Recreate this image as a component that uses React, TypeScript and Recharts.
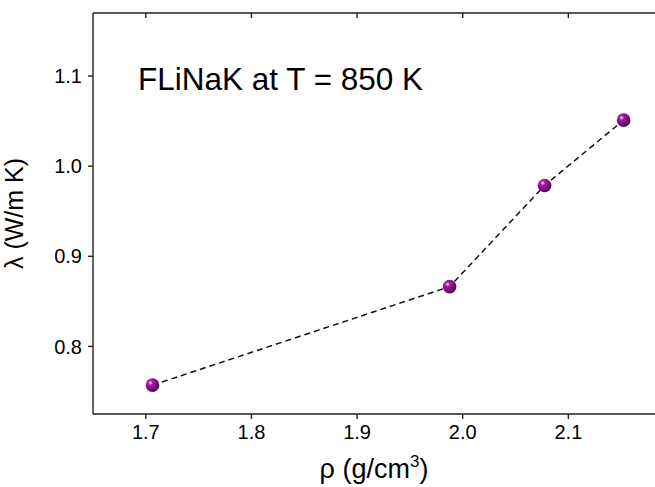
import { LineChart, Line, XAxis, YAxis } from "recharts";

const densities = [1.7063, 1.9876, 2.0775, 2.1523];
const conductivities = [0.757, 0.8663, 0.9786, 1.0511];
const xTicks = [1.7, 1.8, 1.9, 2.0, 2.1];
const yTicks = [0.8, 0.9, 1.0, 1.1];

const data = densities.map((rho, i) => ({ rho, lambda: conductivities[i] }));

const FONT = "'Liberation Sans', Arial, sans-serif";
const AXIS = "#222";

const Ball = ({ cx, cy }: any) => {
    if (cx == null || cy == null) return null;
    return <circle cx={cx} cy={cy} r={6.8} fill="url(#ball)" />;
};

// x-axis title with a raised "3" in cm³
const XTitle = () => (
    <text x={374} y={478} textAnchor="middle" fontSize={27} fontFamily={FONT} fill="#000">
        ρ (g/cm
        <tspan dy={-11} fontSize={17}>3</tspan>
        <tspan dy={11}>)</tspan>
    </text>
);

export default function App() {
    return (
        <div
            style={{
                position: "fixed",
                left: 0,
                top: 0,
                width: 655,
                height: 487,
                overflow: "hidden",
                background: "#fff",
            }}
        >
            <LineChart
                width={700}
                height={487}
                data={data}
                margin={{ top: 13, right: 26, bottom: 0, left: 0 }}
            >
                <defs>
                    <radialGradient id="ball" cx="35%" cy="32%" r="70%">
                        <stop offset="0%" stopColor="#f4d8f4" />
                        <stop offset="25%" stopColor="#a0209f" />
                        <stop offset="70%" stopColor="#7d0a7d" />
                        <stop offset="100%" stopColor="#4f0050" />
                    </radialGradient>
                </defs>
                <XAxis
                    dataKey="rho"
                    type="number"
                    domain={[1.65, 2.2]}
                    ticks={xTicks}
                    tickFormatter={(v: number) => v.toFixed(1)}
                    height={73}
                    stroke={AXIS}
                    strokeWidth={1.4}
                    tickSize={5}
                    tickMargin={6}
                    tick={{ fill: "#000", fontSize: 20, fontFamily: FONT }}
                    label={<XTitle />}
                />
                <XAxis
                    xAxisId="top"
                    dataKey="rho"
                    type="number"
                    orientation="top"
                    domain={[1.65, 2.2]}
                    ticks={xTicks}
                    height={1}
                    mirror
                    stroke={AXIS}
                    strokeWidth={1.4}
                    tickSize={5}
                    tickFormatter={() => ""}
                />
                <YAxis
                    dataKey="lambda"
                    type="number"
                    domain={[0.725, 1.17]}
                    ticks={yTicks}
                    tickFormatter={(v: number) => v.toFixed(1)}
                    width={93}
                    stroke={AXIS}
                    strokeWidth={1.4}
                    tickSize={5}
                    tickMargin={6}
                    allowDataOverflow
                    tick={{ fill: "#000", fontSize: 20, fontFamily: FONT }}
                    label={{
                        value: "λ (W/m K)",
                        angle: -90,
                        position: "insideLeft",
                        offset: 14,
                        style: { textAnchor: "middle" },
                        fill: "#000",
                        fontSize: 25,
                        fontFamily: FONT,
                    }}
                />
                <Line
                    dataKey="lambda"
                    stroke="#111"
                    strokeWidth={1.5}
                    strokeDasharray="6 4"
                    dot={<Ball />}
                    activeDot={false}
                    isAnimationActive={false}
                />
                <text x={138} y={90} fontSize={31.5} fontFamily={FONT} fill="#000">
                    FLiNaK at T = 850 K
                </text>
            </LineChart>
        </div>
    );
}
